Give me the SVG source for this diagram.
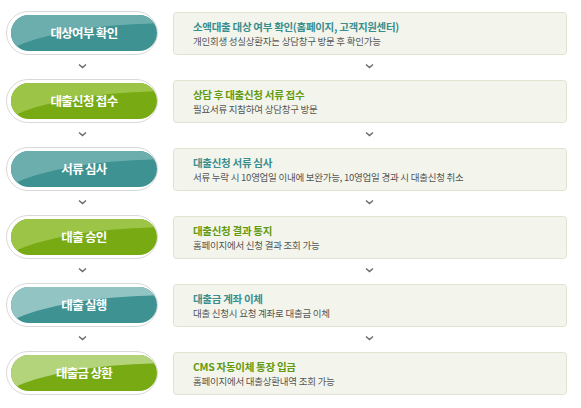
<svg xmlns="http://www.w3.org/2000/svg" width="581" height="408" viewBox="0 0 581 408">
<style>
.outer{fill:#fff;stroke:#d9d9d9;stroke-width:1}
.lbl{font-family:"Noto Sans CJK KR","Noto Sans",sans-serif;font-size:12.5px;font-weight:bold;fill:#fff;text-anchor:middle;letter-spacing:-0.7px}
.box{fill:#f3f5ec;stroke:#dfe3cf;stroke-width:1}
.t{font-family:"Noto Sans CJK KR","Noto Sans",sans-serif;font-size:10.5px;font-weight:bold;letter-spacing:-0.3px}
.tt{fill:#3a8e8e}
.tg{fill:#639a12}
.s{font-family:"Noto Sans CJK KR","Noto Sans",sans-serif;font-size:9.5px;fill:#555;letter-spacing:-0.25px}
.chev{fill:none;stroke:#6a6a6a;stroke-width:1.4}
</style>
<defs>
<clipPath id="pc"><rect x="11" y="-18" width="146" height="36" rx="18"/></clipPath>
<g id="gloss"><path d="M5 -20 H165 V-10 Q60 -8 10 16 Z"/></g>
</defs>
<g id="n1" transform="translate(0,33)">
<rect class="outer" x="6.5" y="-21.5" width="151" height="43" rx="21.5"/>
<rect x="11" y="-18" width="146" height="36" rx="18" fill="#3e9292"/>
<use href="#gloss" clip-path="url(#pc)" fill="#6caeae"/>
<text class="lbl" x="84" y="5">대상여부 확인</text>
<rect class="box" x="173.5" y="-20.5" width="393" height="42" rx="3"/>
<text class="t tt" x="193" y="-2.5">소액대출 대상 여부 확인(홈페이지, 고객지원센터)</text>
<text class="s" x="193" y="11.5">개인회생 성실상환자는 상담창구 방문 후 확인가능</text>
</g>
<g id="n2" transform="translate(0,101)">
<rect class="outer" x="6.5" y="-21.5" width="151" height="43" rx="21.5"/>
<rect x="11" y="-18" width="146" height="36" rx="18" fill="#78aa14"/>
<use href="#gloss" clip-path="url(#pc)" fill="#9cc446"/>
<text class="lbl" x="84" y="5">대출신청 접수</text>
<rect class="box" x="173.5" y="-20.5" width="393" height="42" rx="3"/>
<text class="t tg" x="193" y="-2.5">상담 후 대출신청 서류 접수</text>
<text class="s" x="193" y="11.5">필요서류 지참하여 상담창구 방문</text>
</g>
<g id="n3" transform="translate(0,169)">
<rect class="outer" x="6.5" y="-21.5" width="151" height="43" rx="21.5"/>
<rect x="11" y="-18" width="146" height="36" rx="18" fill="#3e9292"/>
<use href="#gloss" clip-path="url(#pc)" fill="#6caeae"/>
<text class="lbl" x="84" y="5">서류 심사</text>
<rect class="box" x="173.5" y="-20.5" width="393" height="42" rx="3"/>
<text class="t tt" x="193" y="-2.5">대출신청 서류 심사</text>
<text class="s" x="193" y="11.5">서류 누락 시 10영업일 이내에 보완가능, 10영업일 경과 시 대출신청 취소</text>
</g>
<g id="n4" transform="translate(0,237)">
<rect class="outer" x="6.5" y="-21.5" width="151" height="43" rx="21.5"/>
<rect x="11" y="-18" width="146" height="36" rx="18" fill="#78aa14"/>
<use href="#gloss" clip-path="url(#pc)" fill="#9cc446"/>
<text class="lbl" x="84" y="5">대출 승인</text>
<rect class="box" x="173.5" y="-20.5" width="393" height="42" rx="3"/>
<text class="t tg" x="193" y="-2.5">대출신청 결과 통지</text>
<text class="s" x="193" y="11.5">홈페이지에서 신청 결과 조회 가능</text>
</g>
<g id="n5" transform="translate(0,305)">
<rect class="outer" x="6.5" y="-21.5" width="151" height="43" rx="21.5"/>
<rect x="11" y="-18" width="146" height="36" rx="18" fill="#3e9292"/>
<use href="#gloss" clip-path="url(#pc)" fill="#93c4c4"/>
<text class="lbl" x="84" y="5">대출 실행</text>
<rect class="box" x="173.5" y="-20.5" width="393" height="42" rx="3"/>
<text class="t tt" x="193" y="-2.5">대출금 계좌 이체</text>
<text class="s" x="193" y="11.5">대출 신청시 요청 계좌로 대출금 이체</text>
</g>
<g id="n6" transform="translate(0,373)">
<rect class="outer" x="6.5" y="-21.5" width="151" height="43" rx="21.5"/>
<rect x="11" y="-18" width="146" height="36" rx="18" fill="#78aa14"/>
<use href="#gloss" clip-path="url(#pc)" fill="#b4d47c"/>
<text class="lbl" x="84" y="5">대출금 상환</text>
<rect class="box" x="173.5" y="-20.5" width="393" height="42" rx="3"/>
<text class="t tg" x="193" y="-2.5">CMS 자동이체 통장 입금</text>
<text class="s" x="193" y="11.5">홈페이지에서 대출상환내역 조회 가능</text>
</g>
<g id="connectors">
<path class="chev" d="M79 64.5 L82.5 67.5 L86 64.5 M366 64.5 L369.5 67.5 L373 64.5"/>
<path class="chev" d="M79 132.5 L82.5 135.5 L86 132.5 M366 132.5 L369.5 135.5 L373 132.5"/>
<path class="chev" d="M79 200.5 L82.5 203.5 L86 200.5 M366 200.5 L369.5 203.5 L373 200.5"/>
<path class="chev" d="M79 268.5 L82.5 271.5 L86 268.5 M366 268.5 L369.5 271.5 L373 268.5"/>
<path class="chev" d="M79 336.5 L82.5 339.5 L86 336.5 M366 336.5 L369.5 339.5 L373 336.5"/>
</g>
</svg>
